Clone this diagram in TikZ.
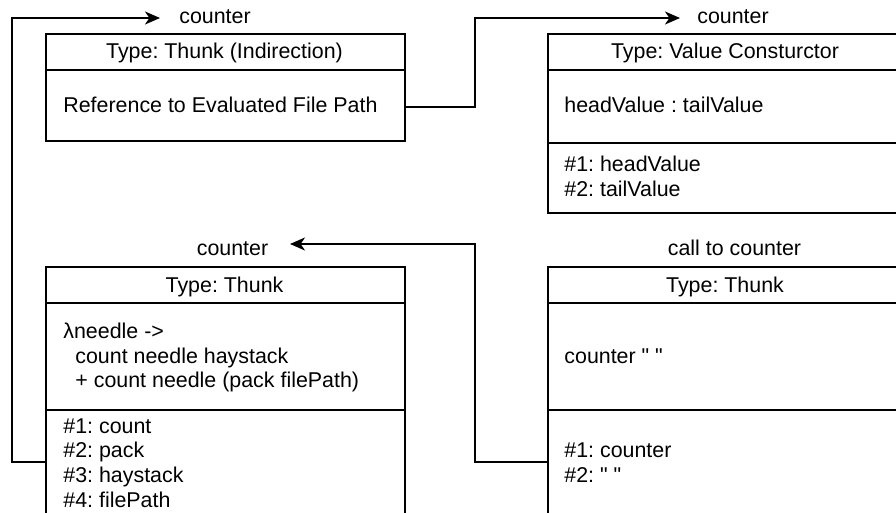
\documentclass[tikz,border=0pt]{standalone}
\usepackage{fontspec}
\setmainfont{Liberation Sans}[Ligatures=TeXOff]
\usetikzlibrary{arrows.meta}
\frenchspacing
\begin{document}
\begin{tikzpicture}[x=0.5pt,y=-0.5pt,
  every node/.style={font=\fontsize{10.7}{12.3}\selectfont\frenchspacing, inner sep=0pt},
  sec/.style={draw, line width=1pt, anchor=north west, inner sep=0pt},
  lw/.style={minimum width=179.5pt},
  rw/.style={minimum width=178pt},
  txt/.style={anchor=base west},
  ttl/.style={anchor=base},
  conn/.style={line width=1pt, -{Stealth[length=7.5pt,width=6.5pt,inset=2.2pt]}}]
\useasboundingbox (0,0) rectangle (896,513);
\clip (0,0) rectangle (896,513);

% Box 1
\node[sec, lw, minimum height=18pt] (b1h) at (45,33) {};
\node[sec, lw, minimum height=35.5pt] (b1b) at (45,69) {};
\node[ttl] (b1t) at (224.5,58.7) {Type: Thunk (Indirection)};
\node[txt] (b1x) at (63,113) {Reference to Evaluated File Path};

% Box 2
\node[sec, rw, minimum height=18pt] (b2h) at (547,33) {};
\node[sec, rw, minimum height=36.5pt] (b2b) at (547,69) {};
\node[sec, rw, minimum height=35pt] (b2a) at (547,142) {};
\node[ttl] (b2t) at (725,58.7) {Type: Value Consturctor};
\node[txt] (b2x) at (564,113) {headValue : tailValue};
\node[txt] (b2a1) at (564,171.5) {\#1: headValue};
\node[txt] (b2a2) at (564,196.3) {\#2: tailValue};

% Box 3
\node[sec, lw, minimum height=18pt] (b3h) at (45,266) {};
\node[sec, lw, minimum height=53.5pt] (b3b) at (45,302) {};
\node[sec, lw, minimum height=60.5pt] (b3a) at (45,409) {};
\node[ttl] (b3t) at (224.5,292.5) {Type: Thunk};
\node[txt] (b3x1) at (63,338.3) {λneedle ->};
\node[txt] (b3x2) at (75,363.2) {count needle haystack};
\node[txt] (b3x3) at (75,388) {+ count needle (pack filePath)};
\node[txt] (b3a1) at (63,433.2) {\#1: count};
\node[txt] (b3a2) at (63,457.9) {\#2: pack};
\node[txt] (b3a3) at (63,482.6) {\#3: haystack};
\node[txt] (b3a4) at (63,507.3) {\#4: filePath};

% Box 4
\node[sec, rw, minimum height=18pt] (b4h) at (547,266) {};
\node[sec, rw, minimum height=53.5pt] (b4b) at (547,302) {};
\node[sec, rw, minimum height=60.5pt] (b4a) at (547,409) {};
\node[ttl] (b4t) at (725,292.5) {Type: Thunk};
\node[txt] (b4x) at (564,363.2) {counter " "};
\node[txt] (b4a1) at (564,457.9) {\#1: counter};
\node[txt] (b4a2) at (564,482.6) {\#2: " "};

% Labels
\node[ttl] (l1) at (215,24) {counter};
\node[ttl] (l2) at (733,24) {counter};
\node[ttl] (l3) at (232.5,256) {counter};
\node[ttl] (l4) at (734.5,256) {call to counter};

% Connectors
\coordinate (a1) at (160,18);
\coordinate (a2) at (680,18);
\coordinate (a3) at (290,244);
\coordinate (k1) at (12,462);
\coordinate (k2) at (475,107);
\coordinate (k3) at (475,462);
\draw[conn] (b3a.west |- k1) -- (k1) |- (a1);
\draw[conn] (b1b.east |- k2) -- (k2) |- (a2);
\draw[conn] (b4a.west |- k3) -- (k3) |- (a3);
\end{tikzpicture}
\end{document}
